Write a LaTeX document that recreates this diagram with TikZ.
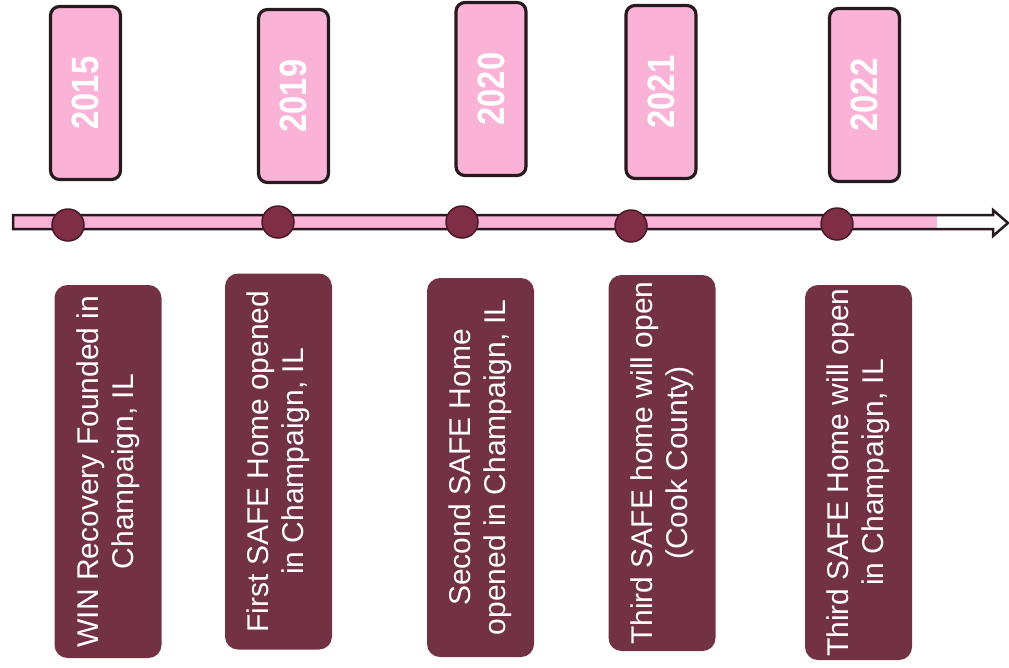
\documentclass[tikz,border=0pt]{standalone}
\usepackage{fontspec}
\setmainfont{Liberation Sans}
\newfontfamily\yearfont[FakeStretch=0.86]{Liberation Sans}
\definecolor{yearpink}{RGB}{250,178,214}
\definecolor{eventred}{RGB}{114,50,67}
\definecolor{dotred}{RGB}{128,45,72}
\definecolor{dotrim}{RGB}{72,26,40}
\definecolor{rim}{RGB}{38,26,30}

\begin{document}
\begin{tikzpicture}
	 [x=1pt,y=-1pt,every node/.style={inner sep=0pt},
	  yearbox/.style={rounded corners=9pt,draw=rim,line width=3.2pt,fill=yearpink,rotate=90,
	    minimum width=173pt,minimum height=70pt,text=white,font=\yearfont\bfseries\fontsize{38}{38}\selectfont},
	  eventbox/.style={rounded corners=13pt,fill=eventred,rotate=90,minimum width=376pt,
	    minimum height=107pt,text=white,align=center,font=\fontsize{30}{35}\selectfont},
	  dot/.style={circle,fill=dotred,draw=dotrim,line width=1.5pt,minimum size=32pt}]
	\useasboundingbox (0,0) rectangle (1009,667);

	  \node[yearbox] (y1) at (85.5,93) {2015};
	  \node[yearbox] (y2) at (293.5,96) {2019};
	  \node[yearbox] (y3) at (491,89) {2020};
	  \node[yearbox] (y4) at (661,92) {2021};
	  \node[yearbox] (y5) at (864.5,95) {2022};

	% timeline
	\coordinate (t0) at (13,222);
	\coordinate (t1) at (1008,223);
	\fill[white] (t0) ++(0,-7) -- ++(980,0) -- ++(0,-6) -- (t1) -- ++(-15,13) -- ++(0,-6) -- ++(-980,0) -- cycle;
	\fill[yearpink] (t0) ++(0,-7) rectangle (937,229);
	\draw[rim,line width=2.5pt] (t0) ++(0,-7) -- ++(980,0) -- ++(0,-5) -- (t1) -- ++(-15,13) -- ++(0,-7) -- ++(-980,0) -- cycle;

	  \node[dot] (d1) at (68,225) {};
	  \node[dot] (d2) at (278,222) {};
	  \node[dot] (d3) at (462,222) {};
	  \node[dot] (d4) at (631,226) {};
	  \node[dot] (d5) at (837,224) {};

	  \node[eventbox,minimum width=373pt] (e1) at (108,471.5) {WIN Recovery Founded in\\Champaign, IL};
	  \node[eventbox] (e2) at (278.5,461.5) {First SAFE Home opened\\in Champaign, IL};
	  \node[eventbox,minimum width=379pt] (e3) at (480.5,467.5) {Second SAFE Home\\opened in Champaign, IL};
	  \node[eventbox] (e4) at (662,463) {Third SAFE home will open\\(Cook County)};
	  \node[eventbox,minimum width=375pt] (e5) at (858.5,472.5) {Third SAFE Home will open\\in Champaign, IL};

\end{tikzpicture}
\end{document}
